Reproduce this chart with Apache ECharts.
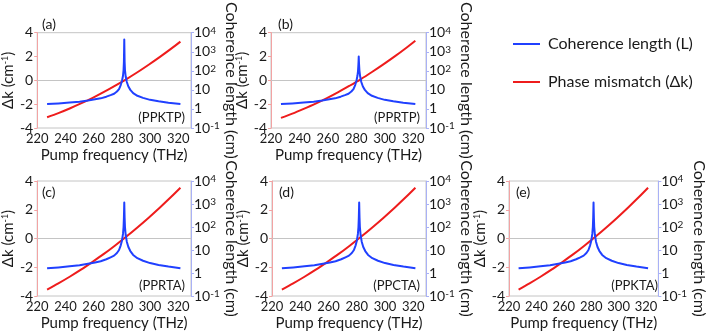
<!DOCTYPE html>
<html>
<head>
<meta charset="utf-8">
<script src="https://cdn.jsdelivr.net/npm/echarts@6/dist/echarts.min.js"></script>
<style>html,body{margin:0;padding:0;background:#fff}#c{width:708px;height:333px}</style>
</head>
<body>
<div id="c"></div>
<script>
// ---- data ----
const panelLetters = ['(a)', '(b)', '(c)', '(d)', '(e)'];
const crystals = ['(PPKTP)', '(PPRTP)', '(PPRTA)', '(PPCTA)', '(PPKTA)'];
const xTicks = [220, 240, 260, 280, 300, 320];

// frequency (THz) sample points for phase mismatch
const xsRed = [227, 235, 243, 251, 259, 267, 275, 283, 291, 299, 307, 315, 321.5];
const redA = [-3.10, -2.75, -2.36, -1.94, -1.49, -0.99, -0.46, 0.09, 0.68, 1.31, 1.97, 2.66, 3.25];
const redB = [-3.15, -2.79, -2.39, -1.97, -1.51, -1.01, -0.47, 0.09, 0.70, 1.34, 2.01, 2.72, 3.33];
const redC = [-3.55, -3.12, -2.66, -2.17, -1.64, -1.09, -0.50, 0.12, 0.77, 1.45, 2.16, 2.90, 3.53];
const redD = [-3.55, -3.12, -2.66, -2.17, -1.64, -1.09, -0.50, 0.12, 0.77, 1.45, 2.16, 2.90, 3.53];
const redE = [-3.55, -3.12, -2.66, -2.17, -1.64, -1.09, -0.50, 0.12, 0.77, 1.45, 2.16, 2.90, 3.53];

// frequency (THz) sample points for coherence length
const xsBlue = [227, 235, 243, 250, 256, 261, 265, 269, 272, 274.5, 276.5, 278, 279.2, 280.1, 280.8, 281.2, 281.45, 281.6, 281.7, 281.8, 281.95, 282.2, 282.7, 283.5, 284.6, 286, 288, 291, 295, 300, 306, 313, 321.5];
const blueA = [1.8, 1.95, 2.15, 2.4, 2.75, 3.2, 3.6, 4.4, 5.3, 6.3, 8.2, 11, 18, 30, 55, 110, 300, 1500, 4400, 1500, 300, 110, 50, 26, 15, 10, 6.8, 4.9, 3.8, 3.0, 2.5, 2.1, 1.8];
const blueB = [1.8, 1.95, 2.15, 2.4, 2.75, 3.2, 3.6, 4.4, 5.3, 6.3, 8.2, 11, 18, 30, 55, 100, 200, 350, 560, 350, 200, 100, 50, 26, 15, 10, 6.8, 4.9, 3.8, 3.0, 2.5, 2.1, 1.8];
const blueC = [1.6, 1.75, 1.95, 2.15, 2.5, 2.85, 3.25, 3.95, 4.8, 5.7, 7.4, 10, 16, 26, 50, 100, 250, 600, 1150, 600, 250, 100, 45, 23, 13.5, 9, 6.1, 4.4, 3.4, 2.7, 2.25, 1.9, 1.6];
const blueD = [1.6, 1.75, 1.95, 2.15, 2.5, 2.85, 3.25, 3.95, 4.8, 5.7, 7.4, 10, 16, 26, 50, 100, 250, 600, 1150, 600, 250, 100, 45, 23, 13.5, 9, 6.1, 4.4, 3.4, 2.7, 2.25, 1.9, 1.6];
const blueE = [1.6, 1.75, 1.95, 2.15, 2.5, 2.85, 3.25, 3.95, 4.8, 5.7, 7.4, 10, 16, 26, 50, 100, 250, 600, 1150, 600, 250, 100, 45, 23, 13.5, 9, 6.1, 4.4, 3.4, 2.7, 2.25, 1.9, 1.6];

const reds = [redA, redB, redC, redD, redE];
const blues = [blueA, blueB, blueC, blueD, blueE];

const nameL = 'Coherence length (L)';
const nameDk = 'Phase mismatch (\u0394k)';

// ---- layout ----
const FONT = 'Lato';
const grids = [
  {left: 35, top: 13, width: 156, height: 115},
  {left: 271, top: 13, width: 155, height: 115},
  {left: 35, top: 181, width: 156, height: 115},
  {left: 272, top: 181, width: 154, height: 115},
  {left: 509, top: 181, width: 155, height: 115}
];
const BLUE = '#2040ff', RED = '#ee1c1c';
const TXT = '#1a1a1a';

const chart = echarts.init(document.getElementById('c'), null, {renderer: 'canvas'});
const xAxis = [], yAxis = [], series = [], title = [];
grids.forEach((g, p) => {
  xAxis.push({
    type: 'value', gridIndex: p, min: 220, max: 329, interval: 20,
    name: 'Pump frequency (THz)', nameLocation: 'middle', nameGap: 20,
    nameTextStyle: {fontFamily: FONT, fontSize: 15, color: TXT},
    axisLine: {show: true, lineStyle: {color: '#c4c4c4'}},
    axisTick: {show: false}, splitLine: {show: false},
    axisLabel: {fontFamily: FONT, fontSize: 13, color: TXT, margin: 4, showMaxLabel: false,
      formatter: v => xTicks.indexOf(v) >= 0 ? String(v) : ''}
  });
  yAxis.push({
    type: 'value', gridIndex: p, min: -4, max: 4, interval: 2, position: 'left',
    name: '\u0394k (cm{s|-1})', nameLocation: 'middle', nameGap: 14, nameRotate: 90,
    nameTextStyle: {fontFamily: FONT, fontSize: 15, color: TXT,
      rich: {s: {fontFamily: FONT, fontSize: 9, verticalAlign: 'top', color: TXT}}},
    axisLine: {show: true, lineStyle: {color: '#f2a3a3'}},
    axisTick: {show: true, length: 3, lineStyle: {color: '#f2a3a3'}},
    splitLine: {show: false},
    axisLabel: {fontFamily: FONT, fontSize: 14, color: TXT, margin: 4}
  });
  yAxis.push({
    type: 'log', logBase: 10, gridIndex: p, min: 0.1, max: 10000, position: 'right',
    name: 'Coherence length (cm)', nameLocation: 'middle', nameGap: 21, nameRotate: -90,
    nameTextStyle: {fontFamily: FONT, fontSize: 16, color: TXT},
    axisLine: {show: true, lineStyle: {color: '#a9b1f6'}},
    axisTick: {show: true, length: 3, lineStyle: {color: '#a9b1f6'}},
    splitLine: {show: false}, minorTick: {show: false},
    axisLabel: {fontFamily: FONT, fontSize: 14, color: TXT, margin: 3,
      formatter: v => {
        const e = Math.round(Math.log10(v));
        if (e === 0) return '1';
        if (e === 1) return '10';
        return '10{s|' + e + '}';
      },
      rich: {s: {fontFamily: FONT, fontSize: 10, verticalAlign: 'top', color: TXT}}}
  });
  series.push({
    name: nameDk, type: 'line', xAxisIndex: p, yAxisIndex: 2 * p,
    data: xsRed.map((x, i) => [x, reds[p][i]]), smooth: 0.3,
    showSymbol: false, lineStyle: {color: RED, width: 2}, itemStyle: {color: RED}, z: 2
  });
  series.push({
    name: nameL, type: 'line', xAxisIndex: p, yAxisIndex: 2 * p + 1,
    data: xsBlue.map((x, i) => [x, blues[p][i]]),
    showSymbol: false, lineStyle: {color: BLUE, width: 2, join: 'round'}, itemStyle: {color: BLUE}, z: 3
  });
  title.push({text: panelLetters[p], left: g.left + 7, top: g.top + 4,
    textStyle: {fontFamily: FONT, fontSize: 14, fontWeight: 'normal', color: TXT}, padding: 0});
  title.push({text: crystals[p], left: g.left + g.width - 6, top: g.top + 98, textAlign: 'right',
    textStyle: {fontFamily: FONT, fontSize: 13, fontWeight: 'normal', color: TXT}, padding: 0});
});

chart.setOption({
  backgroundColor: '#fff',
  animation: false,
  title: title,
  legend: {
    orient: 'vertical', left: 508, top: 31, itemGap: 22, itemWidth: 27, itemHeight: 2,
    icon: 'rect', data: [nameL, nameDk],
    textStyle: {fontFamily: FONT, fontSize: 16, color: TXT, padding: [0, 0, 0, 3]}
  },
  grid: grids.map(g => Object.assign({show: true, borderColor: '#c4c4c4', borderWidth: 1}, g)),
  xAxis: xAxis,
  yAxis: yAxis,
  series: series
});
</script>
</body>
</html>
